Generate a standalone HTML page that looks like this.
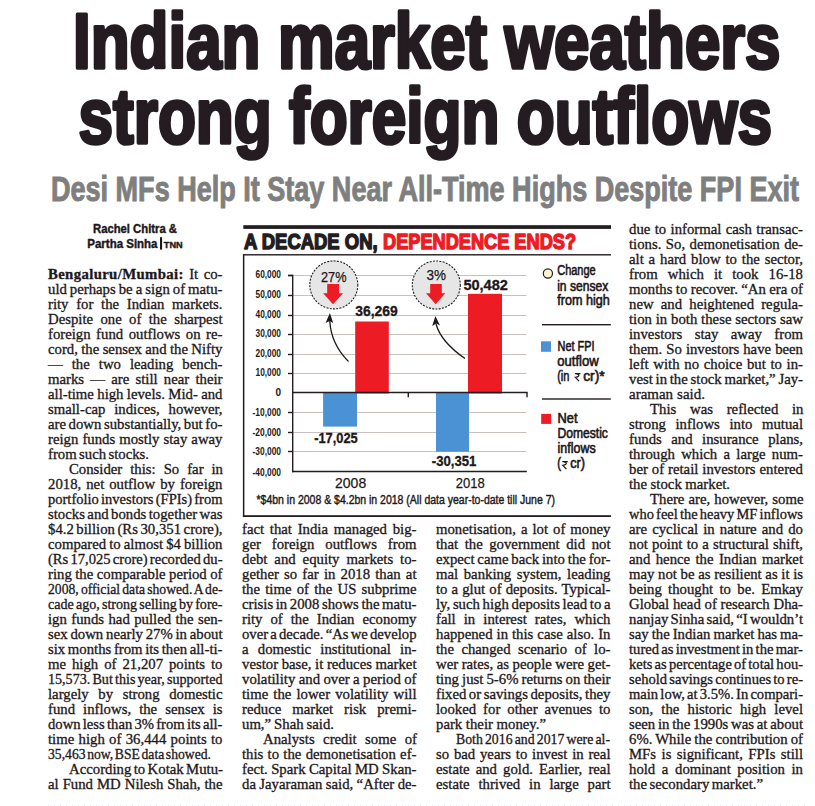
<!DOCTYPE html>
<html><head><meta charset="utf-8">
<style>
html,body{margin:0;padding:0;background:#fff;}
body{width:815px;height:806px;position:relative;overflow:hidden;}
svg{position:absolute;left:0;top:0;}
.ln{position:absolute;-webkit-text-stroke:0.3px #1d1719;white-space:nowrap;font-family:"Liberation Serif",serif;font-size:14.2px;line-height:15px;height:15px;color:#1d1719;transform-origin:0 0;}
.ln b{font-weight:bold;letter-spacing:0.35px;}
</style></head><body>
<svg width="815" height="806" viewBox="0 0 815 806" font-family="Liberation Sans, sans-serif">
 <!-- headline -->
 <g fill="#241c21" font-weight="bold" stroke="#241c21" stroke-width="3.6" stroke-linejoin="round">
  <text x="73" y="68.2" font-size="77" textLength="707.5" lengthAdjust="spacingAndGlyphs">Indian market weathers</text>
  <text x="78.5" y="142.7" font-size="77" textLength="693.5" lengthAdjust="spacingAndGlyphs">strong foreign outflows</text>
 </g>
 <text x="51" y="200.6" font-size="34.3" font-weight="bold" fill="#7f7f7f" stroke="#7f7f7f" stroke-width="1.0" textLength="748" lengthAdjust="spacingAndGlyphs">Desi MFs Help It Stay Near All-Time Highs Despite FPI Exit</text>
 <!-- byline -->
 <g fill="#1d1719" font-weight="bold" font-size="12.2" stroke="#1d1719" stroke-width="0.4">
  <text x="93" y="232.8" textLength="84" lengthAdjust="spacingAndGlyphs">Rachel Chitra &amp;</text>
  <text x="87.3" y="247.6" textLength="70.2" lengthAdjust="spacingAndGlyphs">Partha Sinha</text>
  <rect x="160" y="237.2" width="2.1" height="12.4" stroke="none"/>
  <text x="163.8" y="247.8" font-size="9.3" textLength="18.8" lengthAdjust="spacingAndGlyphs">TNN</text>
 </g>
 <!-- chart frame -->
 <rect x="243.3" y="225.2" width="367.7" height="3.7" fill="#231c20"/>
 <g font-weight="bold" font-size="22">
  <text x="244" y="248.8" fill="#231c20" stroke="#231c20" stroke-width="1.5" stroke-linejoin="round" textLength="133.6" lengthAdjust="spacingAndGlyphs">A DECADE ON,</text>
  <text x="383" y="248.8" fill="#ed1c24" stroke="#ed1c24" stroke-width="1.5" stroke-linejoin="round" textLength="193" lengthAdjust="spacingAndGlyphs">DEPENDENCE ENDS?</text>
 </g>
 <rect x="243.3" y="254.1" width="367.7" height="1.4" fill="#231c20"/>
 <rect x="242.9" y="254.1" width="1.5" height="263" fill="#231c20"/>
 <rect x="242.9" y="515.2" width="368.1" height="1.8" fill="#231c20"/>
 <!-- gridlines -->
 <g stroke="#c9c1be" stroke-width="1">
  <line x1="293" x2="526.5" y1="275.5" y2="275.5"/>
  <line x1="293" x2="526.5" y1="295.5" y2="295.5"/>
  <line x1="293" x2="526.5" y1="315.5" y2="315.5"/>
  <line x1="293" x2="526.5" y1="334.5" y2="334.5"/>
  <line x1="293" x2="526.5" y1="354.5" y2="354.5"/>
  <line x1="293" x2="526.5" y1="373.5" y2="373.5"/>
  <line x1="293" x2="526.5" y1="412.5" y2="412.5"/>
  <line x1="293" x2="526.5" y1="432.5" y2="432.5"/>
  <line x1="293" x2="526.5" y1="451.5" y2="451.5"/>
 </g>
 <!-- bars -->
 <rect x="323.1" y="392.5" width="33.9" height="34.1" fill="#4a92d4"/>
 <rect x="436" y="392.5" width="33" height="59.2" fill="#4a92d4"/>
 <rect x="355.2" y="321.5" width="33.6" height="72" fill="#ed1b24"/>
 <rect x="468" y="293.8" width="34" height="99.7" fill="#ed1b24"/>
 <!-- axes -->
 <g stroke="#231c20" stroke-width="1.4" fill="none">
  <line x1="292.7" x2="292.7" y1="274.8" y2="472.2"/>
  <line x1="292" x2="527.6" y1="392.5" y2="392.5"/>
  <line x1="292" x2="526.8" y1="471.5" y2="471.5"/>
  <line x1="408.3" x2="408.3" y1="392.5" y2="397.2"/>
  <line x1="527" x2="527" y1="392.5" y2="397.2"/>
  <line x1="288" x2="293" y1="275.5" y2="275.5"/>
  <line x1="288" x2="293" y1="295.5" y2="295.5"/>
  <line x1="288" x2="293" y1="315.5" y2="315.5"/>
  <line x1="288" x2="293" y1="334.5" y2="334.5"/>
  <line x1="288" x2="293" y1="354.5" y2="354.5"/>
  <line x1="288" x2="293" y1="373.5" y2="373.5"/>
  <line x1="288" x2="293" y1="412.5" y2="412.5"/>
  <line x1="288" x2="293" y1="432.5" y2="432.5"/>
  <line x1="288" x2="293" y1="451.5" y2="451.5"/>
  <line x1="288" x2="293" y1="275.5" y2="275.5"/>
 </g>
 <!-- y labels -->
 <g fill="#1d1719" font-weight="bold" font-size="10" text-anchor="end">
  <text x="281" y="278.2" textLength="25.5" lengthAdjust="spacingAndGlyphs">60,000</text>
  <text x="281" y="298.2" textLength="25.5" lengthAdjust="spacingAndGlyphs">50,000</text>
  <text x="281" y="318.2" textLength="25.5" lengthAdjust="spacingAndGlyphs">40,000</text>
  <text x="281" y="337.2" textLength="25.5" lengthAdjust="spacingAndGlyphs">30,000</text>
  <text x="281" y="357.2" textLength="25.5" lengthAdjust="spacingAndGlyphs">20,000</text>
  <text x="281" y="376.2" textLength="25.5" lengthAdjust="spacingAndGlyphs">10,000</text>
  <text x="281" y="395.5">0</text>
  <text x="281" y="415.8" textLength="28.5" lengthAdjust="spacingAndGlyphs">-10,000</text>
  <text x="281" y="435.6" textLength="28.5" lengthAdjust="spacingAndGlyphs">-20,000</text>
  <text x="281" y="455.2" textLength="28.5" lengthAdjust="spacingAndGlyphs">-30,000</text>
  <text x="281" y="475.8" textLength="28.5" lengthAdjust="spacingAndGlyphs">-40,000</text>
 </g>
 <!-- value labels -->
 <g fill="#1d1719" font-weight="bold" font-size="14" stroke="#1d1719" stroke-width="0.3">
  <text x="355.3" y="315.6" textLength="42.5" lengthAdjust="spacingAndGlyphs">36,269</text>
  <text x="463.4" y="289.5" textLength="44.5" lengthAdjust="spacingAndGlyphs">50,482</text>
  <text x="314.2" y="442.9" textLength="43.5" lengthAdjust="spacingAndGlyphs">-17,025</text>
  <text x="431.8" y="465.6" textLength="44.5" lengthAdjust="spacingAndGlyphs">-30,351</text>
 </g>
 <!-- circles -->
 <g fill="#e6e6e6" stroke="#1d1d1d" stroke-width="1.1" stroke-dasharray="2 1.3">
  <circle cx="333.8" cy="284.9" r="24"/>
  <circle cx="436.3" cy="285" r="24"/>
 </g>
 <g fill="#1d1719" font-size="15" stroke="#1d1719" stroke-width="0.25">
  <text x="321" y="281.8" textLength="25.5" lengthAdjust="spacingAndGlyphs">27%</text>
  <text x="426.6" y="279.7" textLength="19.5" lengthAdjust="spacingAndGlyphs">3%</text>
 </g>
 <g fill="#ed1b24">
  <polygon points="327.2,284 339.1,284 339.1,293.3 343.1,293.3 333,304.2 323.1,293.3 327.2,293.3"/>
  <polygon points="430.2,284 441.8,284 441.8,293.3 445.3,293.3 435.7,304.2 426,293.3 430.2,293.3"/>
 </g>
 <!-- curved arrows -->
 <g stroke="#1d1719" stroke-width="1.3" fill="none">
  <path d="M348.5,361.5 Q331,344 329.8,321"/>
  <path d="M465,358.5 Q441,342 436,324"/>
 </g>
 <g fill="#1d1719">
  <polygon points="329.9,313 333.2,323 329.6,321 325.6,323"/>
  <polygon points="435.4,316 440,325.5 436.2,323.5 432.2,326"/>
 </g>
 <!-- category labels -->
 <g fill="#1d1719" font-size="15.5" stroke="#1d1719" stroke-width="0.25">
  <text x="335" y="488.3" textLength="31.2" lengthAdjust="spacingAndGlyphs">2008</text>
  <text x="455.8" y="487.8" textLength="29" lengthAdjust="spacingAndGlyphs">2018</text>
 </g>
 <text x="256.5" y="503.6" fill="#1d1719" stroke="#1d1719" stroke-width="0.4" font-size="12" textLength="298.5" lengthAdjust="spacingAndGlyphs">*$4bn in 2008 &amp; $4.2bn in 2018 (All data year-to-date till June 7)</text>
 <!-- legend -->
 <circle cx="547.9" cy="273.5" r="4.6" fill="#fbf5d2" stroke="#231c20" stroke-width="1.2"/>
 <rect x="541" y="341.3" width="10" height="10.5" fill="#4a92d4"/>
 <rect x="541.2" y="413.9" width="10" height="10" fill="#ed1b24"/>
 <rect x="542" y="324" width="68.8" height="1.4" fill="#231c20"/>
 <rect x="542" y="398.3" width="68.8" height="1.4" fill="#231c20"/>
 <g fill="#1d1719" font-size="14" stroke="#1d1719" stroke-width="0.6">
  <text x="557.2" y="274.7" textLength="38.5" lengthAdjust="spacingAndGlyphs">Change</text>
  <text x="557.2" y="290.5" textLength="51" lengthAdjust="spacingAndGlyphs">in sensex</text>
  <text x="557.2" y="305.2" textLength="52.6" lengthAdjust="spacingAndGlyphs">from high</text>
  <text x="557.5" y="350.6" textLength="37" lengthAdjust="spacingAndGlyphs">Net FPI</text>
  <text x="557.2" y="365.8" textLength="41.5" lengthAdjust="spacingAndGlyphs">outflow</text>
  <text x="557.2" y="380.6" textLength="12.3" lengthAdjust="spacingAndGlyphs">(in</text>
  <text x="583.2" y="380.6" textLength="21.5" lengthAdjust="spacingAndGlyphs">cr)*</text>
  <text x="557.5" y="422.6" textLength="20" lengthAdjust="spacingAndGlyphs">Net</text>
  <text x="557.4" y="438.2" textLength="50.5" lengthAdjust="spacingAndGlyphs">Domestic</text>
  <text x="557.6" y="453.4" textLength="38" lengthAdjust="spacingAndGlyphs">inflows</text>
  <text x="557.3" y="468.4" textLength="3.8" lengthAdjust="spacingAndGlyphs">(</text>
  <text x="570.2" y="468.4" textLength="14.8" lengthAdjust="spacingAndGlyphs">cr)</text>
 </g>
 <g stroke="#1d1719" stroke-width="1.25" fill="none" stroke-linecap="butt">
  <path d="M574.9,373.6 H580.4 M576.4,373.8 Q579.6,374.2 578.6,376.2 Q577.8,377.2 575.4,377.3 L579,381.2"/>
  <path d="M562.3,461.6 H567.8 M563.8,461.8 Q567,462.2 566,464.2 Q565.2,465.2 562.8,465.3 L566.4,469.2"/>
 </g>
 <!-- bottom dotted rule -->
 <line x1="48" x2="805" y1="805.5" y2="805.5" stroke="#e6eaec" stroke-width="1" stroke-dasharray="1 5"/>
</svg>
<div class="ln" style="left:48.30px;top:266.60px;transform:scaleX(1.0400);word-spacing:1.699px"><b>Bengaluru/Mumbai:</b> It co-</div>
<div class="ln" style="left:48.30px;top:281.60px;transform:scaleX(1.0400);word-spacing:-0.665px">uld perhaps be a sign of matu-</div>
<div class="ln" style="left:48.30px;top:296.60px;transform:scaleX(1.0400);word-spacing:3.830px">rity for the Indian markets.</div>
<div class="ln" style="left:48.30px;top:311.60px;transform:scaleX(1.0400);word-spacing:3.533px">Despite one of the sharpest</div>
<div class="ln" style="left:48.30px;top:326.60px;transform:scaleX(1.0400);word-spacing:1.756px">foreign fund outflows on re-</div>
<div class="ln" style="left:48.30px;top:341.60px;transform:scaleX(1.0400);word-spacing:-0.327px">cord, the sensex and the Nifty</div>
<div class="ln" style="left:48.30px;top:356.60px;transform:scaleX(1.0400);word-spacing:5.107px">— the two leading bench-</div>
<div class="ln" style="left:48.30px;top:371.60px;transform:scaleX(1.0400);word-spacing:2.433px">marks — are still near their</div>
<div class="ln" style="left:48.30px;top:386.60px;transform:scaleX(1.0400);word-spacing:-0.311px">all-time high levels. Mid- and</div>
<div class="ln" style="left:48.30px;top:401.60px;transform:scaleX(1.0400);word-spacing:4.988px">small-cap indices, however,</div>
<div class="ln" style="left:48.30px;top:416.60px;transform:scaleX(1.0400);word-spacing:-1.069px">are down substantially, but fo-</div>
<div class="ln" style="left:48.30px;top:431.60px;transform:scaleX(1.0400);word-spacing:0.377px">reign funds mostly stay away</div>
<div class="ln" style="left:48.30px;top:446.60px;transform:scaleX(1.0400);word-spacing:-1.294px">from such stocks.</div>
<div class="ln" style="left:68.80px;top:461.60px;transform:scaleX(1.0400);word-spacing:4.113px">Consider this: So far in</div>
<div class="ln" style="left:48.30px;top:476.60px;transform:scaleX(1.0400);word-spacing:1.264px">2018, net outflow by foreign</div>
<div class="ln" style="left:48.30px;top:491.60px;transform:scaleX(1.0242);word-spacing:-1.399px">portfolio investors (FPIs) from</div>
<div class="ln" style="left:48.30px;top:506.60px;transform:scaleX(1.0400);word-spacing:-1.201px">stocks and bonds together was</div>
<div class="ln" style="left:48.30px;top:521.60px;transform:scaleX(1.0400);word-spacing:-1.104px">$4.2 billion (Rs 30,351 crore),</div>
<div class="ln" style="left:48.30px;top:536.60px;transform:scaleX(1.0400);word-spacing:-0.611px">compared to almost $4 billion</div>
<div class="ln" style="left:48.30px;top:551.60px;transform:scaleX(1.0284);word-spacing:-1.408px">(Rs 17,025 crore) recorded du-</div>
<div class="ln" style="left:48.30px;top:566.60px;transform:scaleX(1.0400);word-spacing:-0.205px">ring the comparable period of</div>
<div class="ln" style="left:48.30px;top:581.60px;transform:scaleX(0.9620);word-spacing:-1.260px">2008, official data showed. A de-</div>
<div class="ln" style="left:48.30px;top:596.60px;transform:scaleX(0.9904);word-spacing:-1.326px">cade ago, strong selling by fore-</div>
<div class="ln" style="left:48.30px;top:611.60px;transform:scaleX(1.0400);word-spacing:0.695px">ign funds had pulled the sen-</div>
<div class="ln" style="left:48.30px;top:626.60px;transform:scaleX(1.0400);word-spacing:-0.880px">sex down nearly 27% in about</div>
<div class="ln" style="left:48.30px;top:641.60px;transform:scaleX(1.0400);word-spacing:-1.042px">six months from its then all-ti-</div>
<div class="ln" style="left:48.30px;top:656.60px;transform:scaleX(1.0400);word-spacing:2.186px">me high of 21,207 points to</div>
<div class="ln" style="left:48.30px;top:671.60px;transform:scaleX(0.9928);word-spacing:-1.331px">15,573. But this year, supported</div>
<div class="ln" style="left:48.30px;top:686.60px;transform:scaleX(1.0400);word-spacing:5.711px">largely by strong domestic</div>
<div class="ln" style="left:48.30px;top:701.60px;transform:scaleX(1.0400);word-spacing:4.213px">fund inflows, the sensex is</div>
<div class="ln" style="left:48.30px;top:716.60px;transform:scaleX(1.0337);word-spacing:-1.419px">down less than 3% from its all-</div>
<div class="ln" style="left:48.30px;top:731.60px;transform:scaleX(1.0400);word-spacing:0.611px">time high of 36,444 points to</div>
<div class="ln" style="left:48.30px;top:746.60px;transform:scaleX(0.9630);word-spacing:-1.885px">35,463 now, BSE data showed.</div>
<div class="ln" style="left:68.80px;top:761.60px;transform:scaleX(1.0400);word-spacing:-1.209px">According to Kotak Mutu-</div>
<div class="ln" style="left:48.30px;top:776.60px;transform:scaleX(1.0400);word-spacing:0.295px">al Fund MD Nilesh Shah, the</div>
<div class="ln" style="left:242.10px;top:521.60px;transform:scaleX(1.0400);word-spacing:1.963px">fact that India managed big-</div>
<div class="ln" style="left:242.10px;top:536.60px;transform:scaleX(1.0400);word-spacing:6.940px">ger foreign outflows from</div>
<div class="ln" style="left:242.10px;top:551.60px;transform:scaleX(1.0400);word-spacing:3.139px">debt and equity markets to-</div>
<div class="ln" style="left:242.10px;top:566.60px;transform:scaleX(1.0400);word-spacing:1.436px">gether so far in 2018 than at</div>
<div class="ln" style="left:242.10px;top:581.60px;transform:scaleX(1.0400);word-spacing:1.483px">the time of the US subprime</div>
<div class="ln" style="left:242.10px;top:596.60px;transform:scaleX(1.0400);word-spacing:-1.042px">crisis in 2008 shows the matu-</div>
<div class="ln" style="left:242.10px;top:611.60px;transform:scaleX(1.0400);word-spacing:4.123px">rity of the Indian economy</div>
<div class="ln" style="left:242.10px;top:626.60px;transform:scaleX(1.0351);word-spacing:-1.422px">over a decade. “As we develop</div>
<div class="ln" style="left:242.10px;top:641.60px;transform:scaleX(1.0400);word-spacing:5.357px">a domestic institutional in-</div>
<div class="ln" style="left:242.10px;top:656.60px;transform:scaleX(1.0400);word-spacing:-0.108px">vestor base, it reduces market</div>
<div class="ln" style="left:242.10px;top:671.60px;transform:scaleX(1.0400);word-spacing:-0.249px">volatility and over a period of</div>
<div class="ln" style="left:242.10px;top:686.60px;transform:scaleX(1.0400);word-spacing:1.361px">time the lower volatility will</div>
<div class="ln" style="left:242.10px;top:701.60px;transform:scaleX(1.0400);word-spacing:6.950px">reduce market risk premi-</div>
<div class="ln" style="left:242.10px;top:716.60px;transform:scaleX(1.0400);word-spacing:-0.691px">um,” Shah said.</div>
<div class="ln" style="left:262.60px;top:731.60px;transform:scaleX(1.0400);word-spacing:4.573px">Analysts credit some of</div>
<div class="ln" style="left:242.10px;top:746.60px;transform:scaleX(1.0400);word-spacing:0.576px">this to the demonetisation ef-</div>
<div class="ln" style="left:242.10px;top:761.60px;transform:scaleX(1.0400);word-spacing:-0.311px">fect. Spark Capital MD Skan-</div>
<div class="ln" style="left:242.10px;top:776.60px;transform:scaleX(1.0400);word-spacing:-0.299px">da Jayaraman said, “After de-</div>
<div class="ln" style="left:435.60px;top:521.60px;transform:scaleX(1.0400);word-spacing:1.264px">monetisation, a lot of money</div>
<div class="ln" style="left:435.60px;top:536.60px;transform:scaleX(1.0400);word-spacing:2.740px">that the government did not</div>
<div class="ln" style="left:435.60px;top:551.60px;transform:scaleX(1.0400);word-spacing:-0.814px">expect came back into the for-</div>
<div class="ln" style="left:435.60px;top:566.60px;transform:scaleX(1.0400);word-spacing:1.815px">mal banking system, leading</div>
<div class="ln" style="left:435.60px;top:581.60px;transform:scaleX(1.0400);word-spacing:0.392px">to a glut of deposits. Typical-</div>
<div class="ln" style="left:435.60px;top:596.60px;transform:scaleX(1.0400);word-spacing:-0.975px">ly, such high deposits lead to a</div>
<div class="ln" style="left:435.60px;top:611.60px;transform:scaleX(1.0400);word-spacing:4.224px">fall in interest rates, which</div>
<div class="ln" style="left:435.60px;top:626.60px;transform:scaleX(1.0400);word-spacing:0.305px">happened in this case also. In</div>
<div class="ln" style="left:435.60px;top:641.60px;transform:scaleX(1.0400);word-spacing:3.537px">the changed scenario of lo-</div>
<div class="ln" style="left:435.60px;top:656.60px;transform:scaleX(1.0400);word-spacing:-0.161px">wer rates, as people were get-</div>
<div class="ln" style="left:435.60px;top:671.60px;transform:scaleX(1.0400);word-spacing:-0.567px">ting just 5-6% returns on their</div>
<div class="ln" style="left:435.60px;top:686.60px;transform:scaleX(1.0400);word-spacing:-1.104px">fixed or savings deposits, they</div>
<div class="ln" style="left:435.60px;top:701.60px;transform:scaleX(1.0400);word-spacing:3.139px">looked for other avenues to</div>
<div class="ln" style="left:435.60px;top:716.60px;transform:scaleX(1.0400);word-spacing:-0.037px">park their money.”</div>
<div class="ln" style="left:456.10px;top:731.60px;transform:scaleX(0.9704);word-spacing:-1.280px">Both 2016 and 2017 were al-</div>
<div class="ln" style="left:435.60px;top:746.60px;transform:scaleX(1.0400);word-spacing:1.040px">so bad years to invest in real</div>
<div class="ln" style="left:435.60px;top:761.60px;transform:scaleX(1.0400);word-spacing:2.303px">estate and gold. Earlier, real</div>
<div class="ln" style="left:435.60px;top:776.60px;transform:scaleX(1.0400);word-spacing:4.978px">estate thrived in large part</div>
<div class="ln" style="left:629.30px;top:221.60px;transform:scaleX(1.0400);word-spacing:0.659px">due to informal cash transac-</div>
<div class="ln" style="left:629.30px;top:236.60px;transform:scaleX(1.0400);word-spacing:0.728px">tions. So, demonetisation de-</div>
<div class="ln" style="left:629.30px;top:251.60px;transform:scaleX(1.0400);word-spacing:1.122px">alt a hard blow to the sector,</div>
<div class="ln" style="left:629.30px;top:266.60px;transform:scaleX(1.0400);word-spacing:6.163px">from which it took 16-18</div>
<div class="ln" style="left:629.30px;top:281.60px;transform:scaleX(1.0400);word-spacing:-0.263px">months to recover. “An era of</div>
<div class="ln" style="left:629.30px;top:296.60px;transform:scaleX(1.0400);word-spacing:3.373px">new and heightened regula-</div>
<div class="ln" style="left:629.30px;top:311.60px;transform:scaleX(1.0400);word-spacing:0.124px">tion in both these sectors saw</div>
<div class="ln" style="left:629.30px;top:326.60px;transform:scaleX(1.0400);word-spacing:8.353px">investors stay away from</div>
<div class="ln" style="left:629.30px;top:341.60px;transform:scaleX(1.0400);word-spacing:0.354px">them. So investors have been</div>
<div class="ln" style="left:629.30px;top:356.60px;transform:scaleX(1.0400);word-spacing:0.960px">left with no choice but to in-</div>
<div class="ln" style="left:629.30px;top:371.60px;transform:scaleX(1.0400);word-spacing:-0.895px">vest in the stock market,” Jay-</div>
<div class="ln" style="left:629.30px;top:386.60px;transform:scaleX(1.0564);word-spacing:0.240px">araman said.</div>
<div class="ln" style="left:649.80px;top:401.60px;transform:scaleX(1.0400);word-spacing:9.673px">This was reflected in</div>
<div class="ln" style="left:629.30px;top:416.60px;transform:scaleX(1.0400);word-spacing:5.717px">strong inflows into mutual</div>
<div class="ln" style="left:629.30px;top:431.60px;transform:scaleX(1.0400);word-spacing:5.597px">funds and insurance plans,</div>
<div class="ln" style="left:629.30px;top:446.60px;transform:scaleX(1.0400);word-spacing:2.491px">through which a large num-</div>
<div class="ln" style="left:629.30px;top:461.60px;transform:scaleX(1.0400);word-spacing:0.264px">ber of retail investors entered</div>
<div class="ln" style="left:629.30px;top:476.60px;transform:scaleX(1.0400);word-spacing:-0.099px">the stock market.</div>
<div class="ln" style="left:649.80px;top:491.60px;transform:scaleX(1.0400);word-spacing:0.412px">There are, however, some</div>
<div class="ln" style="left:629.30px;top:506.60px;transform:scaleX(1.0188);word-spacing:-1.388px">who feel the heavy MF inflows</div>
<div class="ln" style="left:629.30px;top:521.60px;transform:scaleX(1.0400);word-spacing:1.396px">are cyclical in nature and do</div>
<div class="ln" style="left:629.30px;top:536.60px;transform:scaleX(1.0400);word-spacing:0.518px">not point to a structural shift,</div>
<div class="ln" style="left:629.30px;top:551.60px;transform:scaleX(1.0400);word-spacing:1.647px">and hence the Indian market</div>
<div class="ln" style="left:629.30px;top:566.60px;transform:scaleX(1.0400);word-spacing:-0.023px">may not be as resilient as it is</div>
<div class="ln" style="left:629.30px;top:581.60px;transform:scaleX(1.0400);word-spacing:2.518px">being thought to be. Emkay</div>
<div class="ln" style="left:629.30px;top:596.60px;transform:scaleX(1.0400);word-spacing:0.073px">Global head of research Dha-</div>
<div class="ln" style="left:629.30px;top:611.60px;transform:scaleX(1.0400);word-spacing:-1.353px">nanjay Sinha said, “I wouldn’t</div>
<div class="ln" style="left:629.30px;top:626.60px;transform:scaleX(1.0400);word-spacing:-0.657px">say the Indian market has ma-</div>
<div class="ln" style="left:629.30px;top:641.60px;transform:scaleX(1.0310);word-spacing:-1.413px">tured as investment in the mar-</div>
<div class="ln" style="left:629.30px;top:656.60px;transform:scaleX(1.0242);word-spacing:-1.399px">kets as percentage of total hou-</div>
<div class="ln" style="left:629.30px;top:671.60px;transform:scaleX(1.0276);word-spacing:-1.406px">sehold savings continues to re-</div>
<div class="ln" style="left:629.30px;top:686.60px;transform:scaleX(1.0275);word-spacing:-1.406px">main low, at 3.5%. In compari-</div>
<div class="ln" style="left:629.30px;top:701.60px;transform:scaleX(1.0400);word-spacing:4.292px">son, the historic high level</div>
<div class="ln" style="left:629.30px;top:716.60px;transform:scaleX(1.0400);word-spacing:-0.878px">seen in the 1990s was at about</div>
<div class="ln" style="left:629.30px;top:731.60px;transform:scaleX(1.0400);word-spacing:-0.564px">6%. While the contribution of</div>
<div class="ln" style="left:629.30px;top:746.60px;transform:scaleX(1.0400);word-spacing:1.718px">MFs is significant, FPIs still</div>
<div class="ln" style="left:629.30px;top:761.60px;transform:scaleX(1.0400);word-spacing:2.811px">hold a dominant position in</div>
<div class="ln" style="left:629.30px;top:776.60px;transform:scaleX(1.0400);word-spacing:-1.171px">the secondary market.”</div>
</body></html>
